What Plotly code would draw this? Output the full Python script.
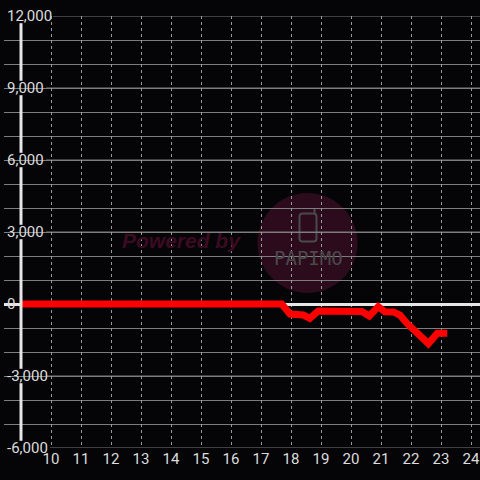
import plotly.graph_objects as go

# ---- data ----
hours = [9.0, 17.69, 17.97, 18.41, 18.63, 18.91, 20.36, 20.61, 20.91, 21.13,
         21.41, 21.63, 21.86, 22.19, 22.58, 22.88, 23.21]
values = [0, 0, -420, -460, -600, -290, -310, -500, -110, -320,
          -330, -460, -800, -1220, -1650, -1220, -1220]

x_ticks = list(range(10, 25))
x_labels = [str(v) for v in x_ticks]
y_ticks = [12000, 9000, 6000, 3000, 0, -3000, -6000]
y_labels = ["12,000", "9,000", "6,000", "3,000", "0", "-3,000", "-6,000"]

# ---- layout constants ----
W, H = 480, 480
ML, MR, MT, MB = 4, 0, 16, 32
PW, PH = W - ML - MR, H - MT - MB
PXU = 30.0                      # pixels per x unit
X_AXIS_AT = 9.0                 # where the vertical axis line sits
X_MIN = X_AXIS_AT - (21 - ML) / PXU
X_MAX = X_MIN + PW / PXU
BG = "#050507"
GRID = "#7d7d7d"
DASH = "#9a9a9a"
TXT = "#dcdcdc"
AXIS = "#e6e6e6"
FONT = "Roboto"


def px(xp):
    return (xp - ML) / PW


def py(yp):
    return (H - MB - yp) / PH


fig = go.Figure()
fig.add_trace(go.Scatter(x=hours, y=values, mode="lines",
                         line=dict(color="#ff0000", width=7),
                         hoverinfo="skip", showlegend=False))

shapes = []
# watermark circle
cx, cy, r = 307.5, 243, 50
shapes.append(dict(type="circle", xref="paper", yref="paper", layer="below",
                   x0=px(cx - r), x1=px(cx + r), y0=py(cy + r), y1=py(cy - r),
                   fillcolor="#2c0b1d", line=dict(width=0)))
# phone icon
x0, x1, y0, y1, rr = 299.5, 316.5, 213.5, 241.5, 3
path = (f"M {px(x0+rr)},{py(y0)} L {px(x1-rr)},{py(y0)} "
        f"Q {px(x1)},{py(y0)} {px(x1)},{py(y0+rr)} L {px(x1)},{py(y1-rr)} "
        f"Q {px(x1)},{py(y1)} {px(x1-rr)},{py(y1)} L {px(x0+rr)},{py(y1)} "
        f"Q {px(x0)},{py(y1)} {px(x0)},{py(y1-rr)} L {px(x0)},{py(y0+rr)} "
        f"Q {px(x0)},{py(y0)} {px(x0+rr)},{py(y0)} Z")
shapes.append(dict(type="path", xref="paper", yref="paper", path=path,
                   line=dict(color="#4a4a4a", width=2), layer="below"))
shapes.append(dict(type="line", xref="paper", yref="paper", layer="below",
                   x0=px(314.5), x1=px(314.5), y0=py(213), y1=py(209),
                   line=dict(color="#4a4a4a", width=2)))

# hide grid left of the axis line
shapes.append(dict(type="rect", xref="paper", yref="paper", layer="between",
                   x0=0, x1=px(19.5), y0=0, y1=1, fillcolor=BG, line=dict(width=0)))

# major horizontal grid lines (start after label)
for t, lab in zip(y_ticks, y_labels):
    if t == 0:
        continue
    start = 53 if len(lab.replace("-", "")) > 5 else 46
    if t == -6000:
        start = 50
    shapes.append(dict(type="line", xref="paper", yref="y", layer="below",
                       x0=px(start), x1=1, y0=t, y1=t,
                       line=dict(color=GRID, width=1)))

# y axis line, broken around labels
gap = 300
for a, b in zip(y_ticks[:-1], y_ticks[1:]):
    ga = 0 if a == 0 else gap
    gb = 0 if b == 0 else gap
    shapes.append(dict(type="line", xref="x", yref="y", layer="above",
                       x0=X_AXIS_AT, x1=X_AXIS_AT, y0=a - ga, y1=b + gb,
                       line=dict(color=AXIS, width=3)))

annotations = [
    dict(text="Powered by", xref="paper", yref="paper", x=px(181), y=py(241),
         showarrow=False, font=dict(family="Liberation Sans", size=21,
                                    color="#3c0b22", weight="bold", style="italic")),
    dict(text="PAPIMO", xref="paper", yref="paper", x=px(308), y=py(257.5),
         showarrow=False, font=dict(family="DejaVu Sans Mono", size=19,
                                    color="#4a4a4a")),
]

fig.update_layout(
    width=W, height=H,
    margin=dict(l=ML, r=MR, t=MT, b=MB, pad=0, autoexpand=False),
    paper_bgcolor=BG, plot_bgcolor=BG,
    shapes=shapes, annotations=annotations,
    showlegend=False,
    font=dict(family=FONT, size=15, color=TXT),
    xaxis=dict(range=[X_MIN, X_MAX], tickvals=x_ticks, ticktext=x_labels,
               showgrid=True, gridcolor=DASH, gridwidth=1, griddash="3px,3px",
               zeroline=False, showline=False, ticks="",
               tickfont=dict(family=FONT, size=15, color=TXT),
               automargin=False, fixedrange=True),
    yaxis=dict(range=[-6000, 12000], tickvals=y_ticks, ticktext=y_labels,
               showgrid=False, zeroline=True, zerolinecolor=AXIS, zerolinewidth=3,
               minor=dict(dtick=1000, showgrid=True, gridcolor=GRID, gridwidth=1),
               ticklabelposition="inside", ticklabeloverflow="allow",
               showline=False, ticks="", tickfont=dict(family=FONT, size=15, color=TXT),
               automargin=False, fixedrange=True),
)

fig.write_html("out.html", config={"displayModeBar": False},
               post_script="document.body.style.margin='0px';")
